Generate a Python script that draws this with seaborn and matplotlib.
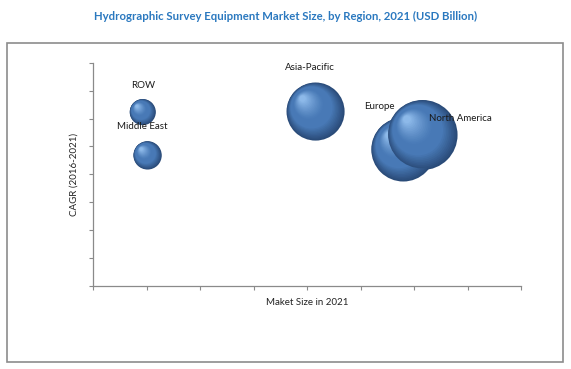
import numpy as np
import pandas as pd
import matplotlib
matplotlib.use("Agg")
import matplotlib.pyplot as plt
import matplotlib.transforms as mtransforms
from matplotlib.colors import to_rgb
import seaborn as sns

# data (axes have no tick labels, scale 0-8)
regions = ["ROW", "Middle East", "Asia-Pacific", "Europe", "North America"]
market_size = [0.93, 1.02, 4.16, 5.80, 6.16]      # x position
cagr = [6.23, 4.68, 6.25, 4.89, 5.41]             # y position
bubble = [0.17, 0.20, 0.84, 1.02, 1.22]           # bubble area (relative)

# label offsets from bubble centre, in points
label_dx = [0, -4, -4, -17, 27]
label_dy = [19, 21, 32, 31, 12]

df = pd.DataFrame({"region": regions, "x": market_size, "y": cagr, "size": bubble})

sns.set_style("white")
plt.rcParams["font.family"] = ["Lato", "DejaVu Sans"]

fig = plt.figure(figsize=(5.71, 3.69), dpi=100)
ax = fig.add_axes([93 / 571, 1 - 286 / 369, 428 / 571, 223.3 / 369])

smax = 2540
sns.scatterplot(data=df, x="x", y="y", size="size", sizes=(0, smax), size_norm=(0, max(bubble)),
                color="#2a4b78", edgecolor="none", linewidth=0, legend=False, ax=ax, zorder=2)

# fake 3d shading: stacked lighter circles drifting to the upper left
dark = np.array(to_rgb("#2a4b78"))
mid = np.array(to_rgb("#4879b6"))
light = np.array(to_rgb("#93bfee"))
n = 30
for i, row in df.iterrows():
    s0 = smax * row["size"] / max(bubble)
    r0 = np.sqrt(s0) / 2  # points
    for k in range(1, n):
        f = 1 - 0.92 * k / n
        t = k / n
        if t < 0.3:
            c = dark + (mid - dark) * (t / 0.3)
        elif t < 0.5:
            c = mid
        else:
            c = mid + (light - mid) * ((t - 0.5) / 0.5) ** 1.3
        off = (1 - f) * r0 * 0.5
        tr = ax.transData + mtransforms.ScaledTranslation(-off / 72, off / 72, fig.dpi_scale_trans)
        ax.scatter([row["x"]], [row["y"]], s=s0 * f ** 2, color=c, edgecolor="none",
                   transform=tr, zorder=2 + i * 0.01 + k * 0.0001)

for i, row in df.iterrows():
    ax.annotate(row["region"], (row["x"], row["y"]), xytext=(label_dx[i], label_dy[i]),
                textcoords="offset points", ha="center", va="center", fontsize=7,
                color="#1a1a1a", zorder=5)

ax.set_xlim(0, 8)
ax.set_ylim(0, 8)
ax.set_xticks(np.arange(0, 9))
ax.set_yticks(np.arange(0, 9))
ax.set_xticklabels([])
ax.set_yticklabels([])
ax.tick_params(axis="both", length=3, width=0.8, color="#8a8a8a", direction="out", bottom=True, left=True)
sns.despine(ax=ax)
for sp in ["left", "bottom"]:
    ax.spines[sp].set_color("#8a8a8a")
    ax.spines[sp].set_linewidth(0.9)

ax.set_xlabel("Maket Size in 2021", fontsize=7, color="#222222", labelpad=2)
ax.set_ylabel("CAGR (2016-2021)", fontsize=7, color="#222222", labelpad=4)

fig.suptitle("Hydrographic Survey Equipment Market Size, by Region, 2021 (USD Billion)",
             x=0.5, y=1 - 16 / 369, va="center", fontsize=8.2, fontweight="bold", color="#2a78bf")

border = plt.Rectangle((6.5 / 571, 1 - 361.7 / 369), 556.5 / 571, 318.4 / 369, transform=fig.transFigure,
                       fill=False, edgecolor="#8c8c8c", linewidth=1.2)
fig.patches.append(border)

fig.savefig("out.png", dpi=100)
